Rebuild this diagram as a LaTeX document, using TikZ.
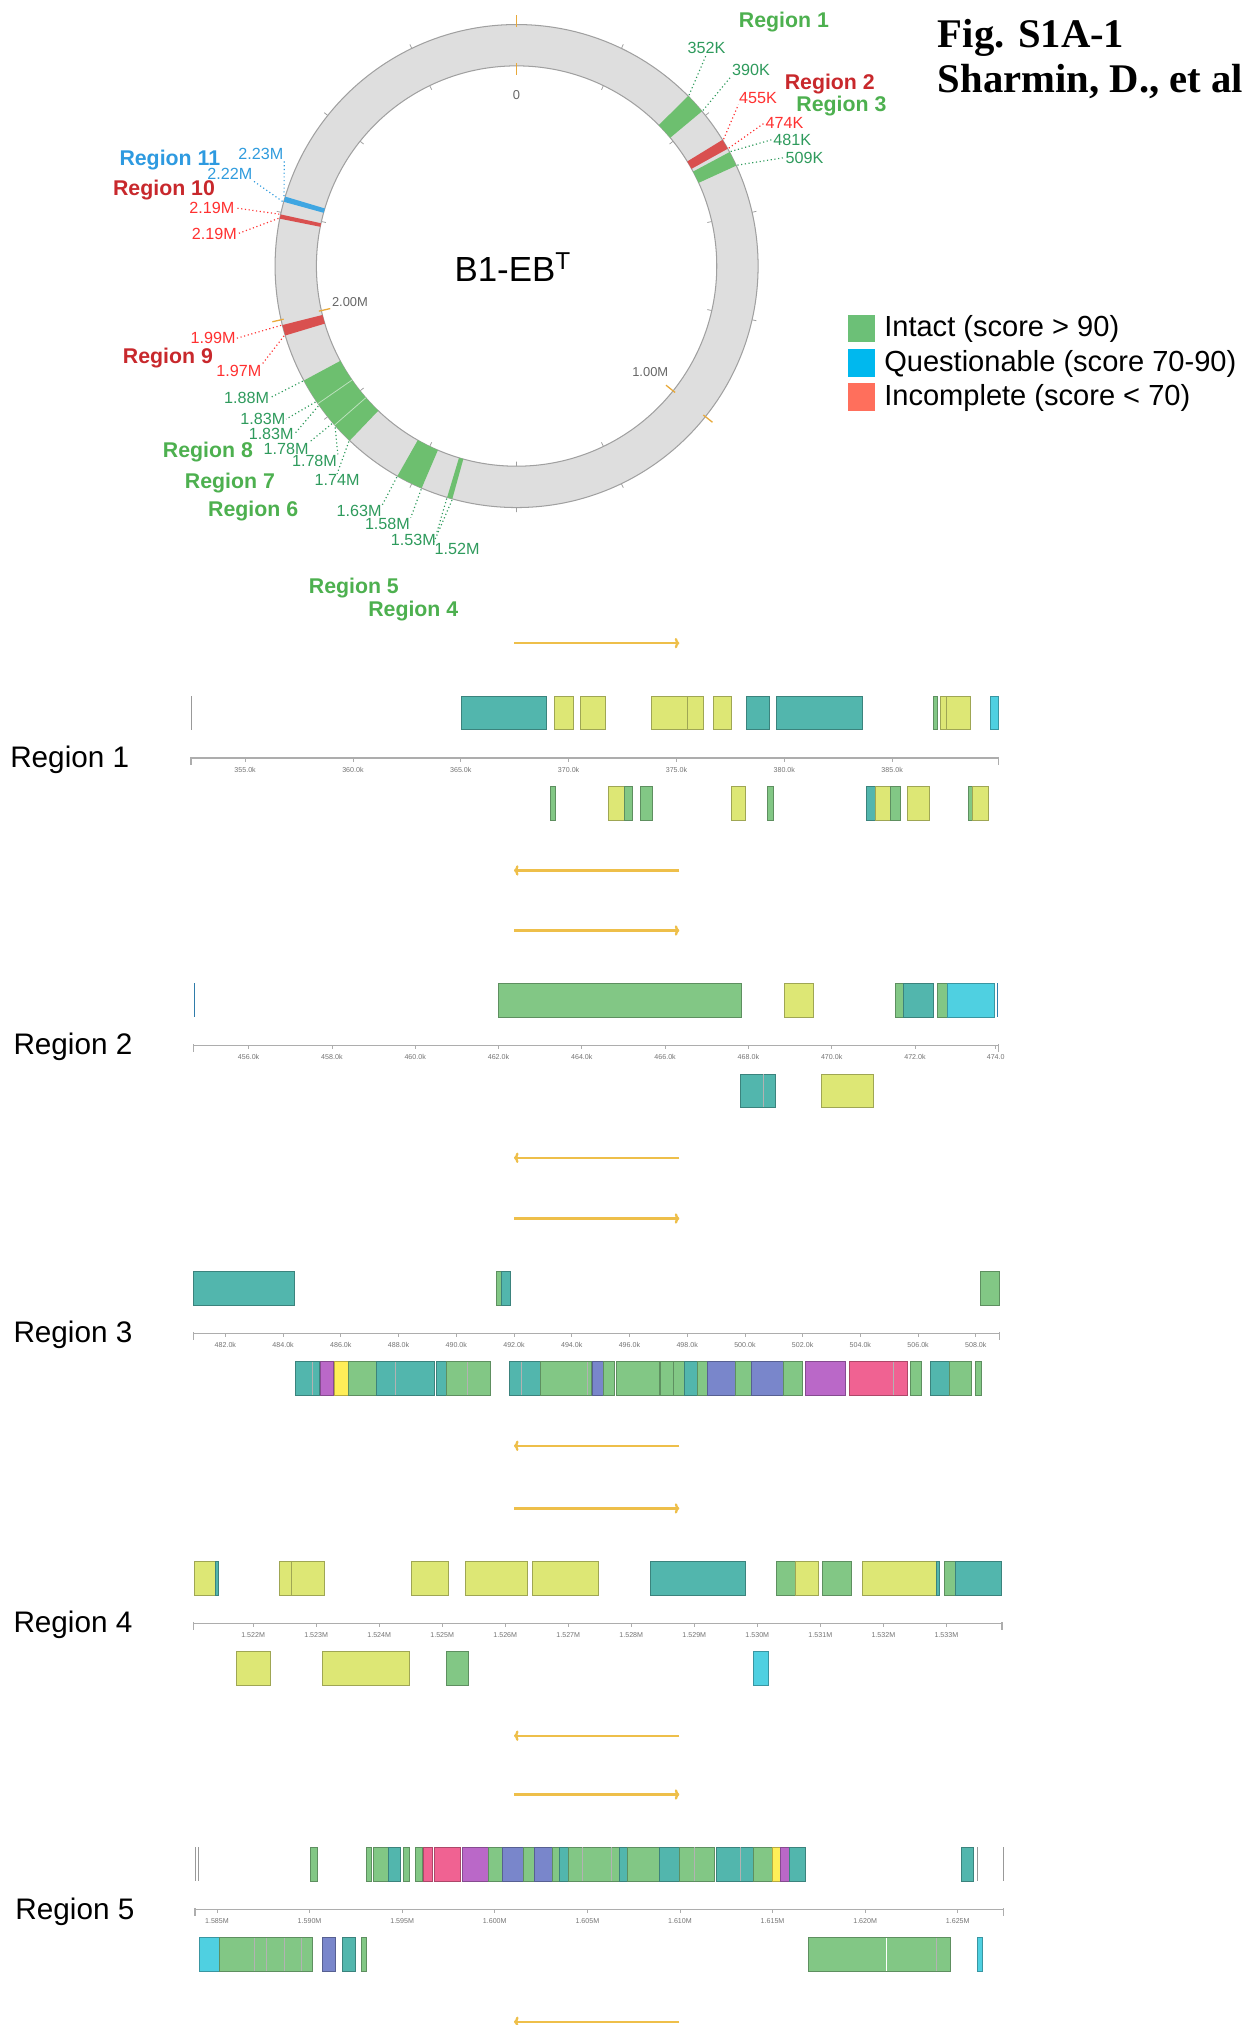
\documentclass[tikz,border=0pt]{standalone}
\usepackage{fontspec}
\setmainfont{Liberation Sans}
\newfontfamily\titlefont{Liberation Serif}
\usetikzlibrary{arrows.meta}

\definecolor{TEAL}{HTML}{52B6AD}
\definecolor{GRN}{HTML}{82C785}
\definecolor{YEL}{HTML}{DDE775}
\definecolor{CYN}{HTML}{4FD0E1}
\definecolor{IND}{HTML}{7986CB}
\definecolor{PUR}{HTML}{BA68C8}
\definecolor{PNK}{HTML}{F06292}
\definecolor{BYL}{HTML}{FFEE58}
\definecolor{ringfill}{HTML}{DEDEDE}
\definecolor{ringedge}{HTML}{A0A0A0}
\definecolor{bandgreen}{HTML}{6DBF6F}
\definecolor{bandred}{HTML}{D9504F}
\definecolor{bandblue}{HTML}{3FA6E2}
\definecolor{posgreen}{HTML}{2E9A5C}
\definecolor{posred}{HTML}{FF3030}
\definecolor{posblue}{HTML}{2F9BDD}
\definecolor{reggreen}{HTML}{4DB04F}
\definecolor{regred}{HTML}{C8282C}
\definecolor{regblue}{HTML}{2E9AE0}
\definecolor{arrowgold}{HTML}{EEBF4A}
\definecolor{tickorange}{HTML}{E8A93A}
\definecolor{leg1}{HTML}{6CC077}
\definecolor{leg2}{HTML}{00B8EE}
\definecolor{leg3}{HTML}{FF6F5C}

\newcommand\fs[1]{\fontsize{#1}{#1}\selectfont}
\newcommand\rowy[2]{\def\gya{#1}\def\gyb{#2}}
\newcommand\GN[3]{\filldraw[fill=#1,draw=#1!72!black,line width=0.55] (#2,\gya) rectangle (#3,\gyb);}
\newcommand\VL[2][black!30]{\draw[#1,line width=0.6] (#2,\gya) -- (#2,\gyb);}
\newcommand\band[3]{\fill[#3] ({ang(#1)}:155) arc[start angle={ang(#1)}, end angle={ang(#2)}, radius=155] -- ({ang(#2)}:187) arc[start angle={ang(#2)}, end angle={ang(#1)}, radius=187] -- cycle;}
\newcommand\trackaxis[3]{%
  \draw[axisline] (#2,#1) -- (#3,#1);
  \draw[axisline] (#2,#1-1) -- (#2,#1+5);
  \draw[axisline] (#3,#1-1) -- (#3,#1+5);}
\newcommand\arrows[1]{%
  \draw[garrow] (398,#1-89) -- (526,#1-89);
  \draw[garrow] (526,#1+87) -- (398,#1+87);}

\begin{document}
\begin{tikzpicture}[x=1pt,y=-1pt,
  declare function={ang(\p)=\p*360/2.8-90;},
  poslab/.style={font=\fs{12.5}, inner sep=0.5},
  reglab/.style={font=\fs{16.5}\bfseries, inner sep=0},
  leader/.style={dotted, line width=0.9},
  axisline/.style={draw=black!32, line width=1.2},
  axistick/.style={draw=black!32, line width=0.6},
  ticklab/.style={font=\fs{5.5}, text=black!55, inner sep=0},
  garrow/.style={arrowgold, line width=1.8, -{To[length=3.5pt,width=8pt]}},
  tracklab/.style={font=\fs{23}, inner sep=0},
  legtext/.style={font=\fs{22.5}, anchor=west, inner sep=0},
  legbox/.style={minimum size=21.5pt, inner sep=0}]
\useasboundingbox (0,0) rectangle (966,1568);

% ---------------- circular map ----------------
\begin{scope}[shift={(400,206)}]
  \filldraw[fill=ringfill, draw=ringedge, line width=0.8, even odd rule] (0,0) circle[radius=187] (0,0) circle[radius=155];
  \foreach \p in {0.2,0.4,0.6,0.8,1.2,1.4,1.6,1.8,2.2,2.4,2.6} {
    \draw[ringedge, line width=0.6] ({ang(\p)}:187) -- ({ang(\p)}:190.5);
    \draw[ringedge, line width=0.6] ({ang(\p)}:155) -- ({ang(\p)}:151.5);
  }
  \foreach \p in {0,1,2} {
    \draw[tickorange, line width=1] ({ang(\p)}:185) -- ({ang(\p)}:194);
    \draw[tickorange, line width=1] ({ang(\p)}:157) -- ({ang(\p)}:148);
  }
  \band{0.352}{0.390}{bandgreen}
  \band{0.455}{0.474}{bandred}
  \band{0.481}{0.509}{bandgreen}
  \band{1.520}{1.530}{bandgreen}
  \band{1.580}{1.630}{bandgreen}
  \band{1.740}{1.880}{bandgreen}
  \draw[white!55!bandgreen, line width=0.6] ({ang(1.78)}:155) -- ({ang(1.78)}:187);
  \draw[white!55!bandgreen, line width=0.6] ({ang(1.83)}:155) -- ({ang(1.83)}:187);
  \band{1.970}{1.990}{bandred}
  \band{2.188}{2.196}{bandred}
  \band{2.220}{2.230}{bandblue}
\end{scope}

\node[font=\fs{10}, text=black!60, inner sep=0] (zero) at (400,73.5) {0};
\node[font=\fs{10}, text=black!60, inner sep=0] (m2) at (271,234) {2.00M};
\node[font=\fs{10}, text=black!60, inner sep=0] (m1) at (503.5,288) {1.00M};
\node[font=\fs{27}, inner sep=0] (genome) at (397,207) {B1-EB\textsuperscript{T}};

% position labels
\node[poslab, text=posgreen] (p352) at (547,37) {352K};
\node[poslab, text=posgreen] (p390) at (581.5,54) {390K};
\node[poslab, text=posred] (p455) at (587,76) {455K};
\node[poslab, text=posred] (p474) at (607.5,95) {474K};
\node[poslab, text=posgreen] (p481) at (613.5,108) {481K};
\node[poslab, text=posgreen] (p509) at (623,122) {509K};
\node[poslab, text=posblue] (p223) at (202,119) {2.23M};
\node[poslab, text=posblue] (p222) at (178,135) {2.22M};
\node[poslab, text=posred] (p219a) at (164,161) {2.19M};
\node[poslab, text=posred] (p219b) at (166,181) {2.19M};
\node[poslab, text=posred] (p199) at (165,262) {1.99M};
\node[poslab, text=posred] (p197) at (185,287) {1.97M};
\node[poslab, text=posgreen] (p188) at (191,308) {1.88M};
\node[poslab, text=posgreen] (p183a) at (203.5,324.5) {1.83M};
\node[poslab, text=posgreen] (p183b) at (210,336) {1.83M};
\node[poslab, text=posgreen] (p178a) at (221.5,347.5) {1.78M};
\node[poslab, text=posgreen] (p178b) at (243.5,357) {1.78M};
\node[poslab, text=posgreen] (p174) at (261,372) {1.74M};
\node[poslab, text=posgreen] (p163) at (278,396) {1.63M};
\node[poslab, text=posgreen] (p158) at (300,406) {1.58M};
\node[poslab, text=posgreen] (p153) at (320,418) {1.53M};
\node[poslab, text=posgreen] (p152) at (354,425) {1.52M};

% region labels
\node[reglab, text=reggreen] (r1) at (607,17) {Region 1};
\node[reglab, text=regred] (r2) at (642.5,65) {Region 2};
\node[reglab, text=reggreen] (r3) at (651.5,82) {Region 3};
\node[reglab, text=regblue] (r11) at (131.5,124) {Region 11};
\node[reglab, text=regred] (r10) at (127,147) {Region 10};
\node[reglab, text=regred] (r9) at (130,277) {Region 9};
\node[reglab, text=reggreen] (r8) at (161,350) {Region 8};
\node[reglab, text=reggreen] (r7) at (178,374) {Region 7};
\node[reglab, text=reggreen] (r6) at (196,396) {Region 6};
\node[reglab, text=reggreen] (r5) at (274,455) {Region 5};
\node[reglab, text=reggreen] (r4) at (320,473) {Region 4};

% leaders
\begin{scope}[shift={(400,206)}]
  \draw[leader, posgreen] ({ang(0.352)}:188) -- (p352.south);
  \draw[leader, posgreen] ({ang(0.390)}:188) -- (p390.south west);
  \draw[leader, posred] ({ang(0.455)}:188) -- (p455.south west);
  \draw[leader, posred] ({ang(0.474)}:188) -- (p474.west);
  \draw[leader, posgreen] ({ang(0.481)}:188) -- (p481.west);
  \draw[leader, posgreen] ({ang(0.509)}:188) -- (p509.west);
  \draw[leader, posblue] ({ang(2.230)}:188) -- (p223.south east);
  \draw[leader, posblue] ({ang(2.220)}:188) -- (p222.south east);
  \draw[leader, posred] ({ang(2.196)}:188) -- (p219a.east);
  \draw[leader, posred] ({ang(2.188)}:188) -- (p219b.east);
  \draw[leader, posred] ({ang(1.990)}:188) -- (p199.east);
  \draw[leader, posred] ({ang(1.970)}:188) -- (p197.north east);
  \draw[leader, posgreen] ({ang(1.880)}:188) -- (p188.east);
  \draw[leader, posgreen] ({ang(1.835)}:188) -- (p183a.east);
  \draw[leader, posgreen] ({ang(1.826)}:188) -- (p183b.east);
  \draw[leader, posgreen] ({ang(1.785)}:188) -- (p178a.north east);
  \draw[leader, posgreen] ({ang(1.776)}:188) -- (p178b.north east);
  \draw[leader, posgreen] ({ang(1.740)}:188) -- (p174.north);
  \draw[leader, posgreen] ({ang(1.630)}:188) -- (p163.north east);
  \draw[leader, posgreen] ({ang(1.580)}:188) -- (p158.north east);
  \draw[leader, posgreen] ({ang(1.530)}:188) -- (p153.north east);
  \draw[leader, posgreen] ({ang(1.520)}:188) -- (p152.north west);
\end{scope}

% legend
\node[legbox, fill=leg1] (lg1) at (667,254.3) {};
\node[legbox, fill=leg2] (lg2) at (667,281) {};
\node[legbox, fill=leg3] (lg3) at (667,307.3) {};
\node[legtext] (lt1) at (684.5,254.5) {Intact (score > 90)};
\node[legtext] (lt2) at (684.5,281.5) {Questionable (score 70-90)};
\node[legtext] (lt3) at (684.5,308.5) {Incomplete (score < 70)};

% title
\node[anchor=base west, inner sep=0, font=\titlefont\bfseries\fs{31.5}] (title1) at (726,36.5) {Fig. S1A-1};
\node[anchor=base west, inner sep=0, font=\titlefont\bfseries\fs{31.5}] (title2) at (726,72) {Sharmin, D., et al};

% ---------------- Region 1 ----------------
\node[tracklab] (t1) at (54,588) {Region 1};
\arrows{587}
\trackaxis{587}{148}{773}
\foreach \x/\lab [count=\i] in {189.8/355.0k,273.3/360.0k,356.8/365.0k,440.3/370.0k,523.8/375.0k,607.3/380.0k,690.8/385.0k} {
  \draw[axistick] (\x,587) -- (\x,590);
  \node[ticklab] (a1-\i) at (\x,596) {\lab};
}
\rowy{539}{565}
\VL[black!40]{148.5}
\GN{TEAL}{357}{423}\GN{YEL}{429}{444}\GN{YEL}{449}{469}\GN{YEL}{504}{532}\GN{YEL}{532}{545}
\GN{YEL}{552}{566}\GN{TEAL}{578}{596}\GN{TEAL}{601}{668}\GN{GRN}{723}{726}\GN{YEL}{728}{733}
\GN{YEL}{733}{751}\GN{CYN}{767}{773}
\rowy{609}{635}
\GN{GRN}{426.5}{430}\GN{YEL}{471}{483.6}\GN{GRN}{483.6}{489.5}\GN{GRN}{496}{505}\GN{YEL}{566}{577}
\GN{GRN}{594.5}{599}\GN{TEAL}{670.7}{677.7}\GN{YEL}{677.7}{689.2}\GN{GRN}{689.2}{697}
\GN{YEL}{702.6}{719.7}\GN{GRN}{750}{753}\GN{YEL}{753}{765}

% ---------------- Region 2 ----------------
\node[tracklab] (t2) at (56.5,810.5) {Region 2};
\arrows{809.5}
\trackaxis{809.5}{150}{773}
\foreach \x/\lab [count=\i] in {192.5/456.0k,257/458.0k,321.5/460.0k,386/462.0k,450.5/464.0k,515/466.0k,579.5/468.0k,644/470.0k,708.5/472.0k,771/474.0} {
  \draw[axistick] (\x,809.5) -- (\x,812.5);
  \node[ticklab] (a2-\i) at (\x,818.5) {\lab};
}
\rowy{761.5}{787.5}
\VL[bandblue!75!black]{150.5}
\GN{GRN}{386}{574}\GN{YEL}{607.5}{629.5}\GN{GRN}{693.5}{699.5}\GN{TEAL}{699.5}{723}
\GN{GRN}{725.5}{733.6}\GN{CYN}{733.6}{769.6}
\VL[bandblue!75!black]{772.5}
\rowy{831.5}{857.5}
\GN{TEAL}{573.5}{600}\VL{591}\GN{YEL}{636}{676}

% ---------------- Region 3 ----------------
\node[tracklab] (t3) at (56.5,1033.5) {Region 3};
\arrows{1032.5}
\trackaxis{1032.5}{150}{774}
\foreach \x/\lab [count=\i] in {174.5/482.0k,219.2/484.0k,263.9/486.0k,308.6/488.0k,353.3/490.0k,398/492.0k,442.7/494.0k,487.4/496.0k,532.1/498.0k,576.8/500.0k,621.5/502.0k,666.2/504.0k,710.9/506.0k,755.6/508.0k} {
  \draw[axistick] (\x,1032.5) -- (\x,1035.5);
  \node[ticklab] (a3-\i) at (\x,1041.5) {\lab};
}
\rowy{984.5}{1010.5}
\GN{TEAL}{150}{228}\GN{GRN}{384.4}{388}\GN{TEAL}{388}{395}\GN{GRN}{759}{774}
\rowy{1054.5}{1080.5}
\GN{TEAL}{229}{247}\VL{242}\GN{PUR}{248}{258}\GN{BYL}{259}{269.5}\GN{GRN}{269.5}{291.7}
\GN{TEAL}{291.7}{336}\VL{306}\GN{TEAL}{338}{345.8}\GN{GRN}{345.8}{379.6}\VL{362}
\GN{TEAL}{394.5}{418.1}\VL{404}\GN{GRN}{418.1}{457.9}\VL{455}\GN{IND}{458.7}{467.4}
\GN{GRN}{467.4}{475.9}\GN{GRN}{477.2}{510.6}\GN{GRN}{511}{521.4}\GN{GRN}{521.4}{529.9}
\GN{TEAL}{529.9}{539.6}\GN{GRN}{539.6}{547.9}\GN{IND}{547.9}{569.2}\GN{GRN}{569.2}{582}
\GN{IND}{582}{606.2}\GN{GRN}{606.2}{621.6}\GN{PUR}{623.6}{654.5}\GN{PNK}{657.9}{702.8}\VL{691.5}
\GN{GRN}{705.2}{713.7}\GN{TEAL}{720.5}{734.8}\GN{GRN}{734.8}{752.3}\GN{GRN}{755.3}{760}

% ---------------- Region 4 ----------------
\node[tracklab] (t4) at (56.5,1258) {Region 4};
\arrows{1257}
\trackaxis{1257}{150}{776}
\foreach \x/\lab [count=\i] in {196/1.522M,244.8/1.523M,293.6/1.524M,342.4/1.525M,391.2/1.526M,440/1.527M,488.8/1.528M,537.6/1.529M,586.4/1.530M,635.2/1.531M,684/1.532M,732.8/1.533M} {
  \draw[axistick] (\x,1257) -- (\x,1260);
  \node[ticklab] (a4-\i) at (\x,1266) {\lab};
}
\rowy{1209}{1235}
\GN{YEL}{150.7}{166.5}\GN{TEAL}{166.5}{169}\GN{YEL}{216}{225.8}\GN{YEL}{225.8}{251}
\GN{YEL}{318.7}{347.3}\GN{YEL}{360}{408}\GN{YEL}{412}{463}\GN{TEAL}{503.4}{577}
\GN{GRN}{601.4}{615.7}\GN{YEL}{615.7}{634}\GN{GRN}{636.8}{659.4}\GN{YEL}{667.6}{725}
\GN{TEAL}{725}{727.6}\GN{GRN}{731}{740}\GN{TEAL}{740}{775}
\rowy{1279}{1305}
\GN{YEL}{183.3}{209.5}\GN{YEL}{249.5}{317.2}\GN{GRN}{345.4}{362.6}\GN{CYN}{583}{595.2}

% ---------------- Region 5 ----------------
\node[tracklab] (t5) at (58,1480) {Region 5};
\arrows{1478.5}
\trackaxis{1478.5}{151}{777}
\foreach \x/\lab [count=\i] in {168/1.585M,239.7/1.590M,311.4/1.595M,383.1/1.600M,454.8/1.605M,526.5/1.610M,598.2/1.615M,669.9/1.620M,741.6/1.625M} {
  \draw[axistick] (\x,1478.5) -- (\x,1481.5);
  \node[ticklab] (a5-\i) at (\x,1487.5) {\lab};
}
\rowy{1430.5}{1456.5}
\VL[black!40]{151}\VL[black!40]{154}
\GN{GRN}{240.6}{245.6}\GN{GRN}{284}{287.5}\GN{GRN}{289}{300.4}\GN{TEAL}{300.4}{310.3}
\GN{GRN}{312}{317.2}\GN{GRN}{321.6}{327}\GN{PNK}{328}{335}\GN{PNK}{336.5}{356.7}
\GN{PUR}{358}{378.5}\GN{GRN}{378.5}{389.3}\GN{IND}{389.3}{405}\GN{GRN}{405}{413.5}
\GN{IND}{413.5}{428}\GN{GRN}{428}{432.8}\GN{TEAL}{432.8}{439.7}\GN{GRN}{439.7}{479.2}
\VL{450.6}\VL{473.3}\GN{TEAL}{479.2}{485.7}\GN{GRN}{485.7}{510.9}\GN{TEAL}{510.9}{525.7}
\GN{GRN}{525.7}{553.4}\VL{538}\GN{TEAL}{554.8}{583}\VL{573}\GN{GRN}{583}{597.8}
\GN{BYL}{597.8}{604.2}\GN{PUR}{604.2}{611.2}\GN{TEAL}{611.2}{623.5}
\GN{TEAL}{744.6}{753.5}\VL[black!40]{757}\VL[black!40]{777}
\rowy{1500.5}{1526.5}
\GN{CYN}{154}{169.5}\GN{GRN}{169.5}{242}\VL{196.6}\VL{206.5}\VL{219.9}\VL{233.7}
\GN{IND}{249.5}{259.4}\GN{TEAL}{264.8}{275.2}\GN{GRN}{280}{284}
\GN{GRN}{626}{736}\VL[white]{686}\VL{725}\GN{CYN}{757}{761}
\end{tikzpicture}
\end{document}
